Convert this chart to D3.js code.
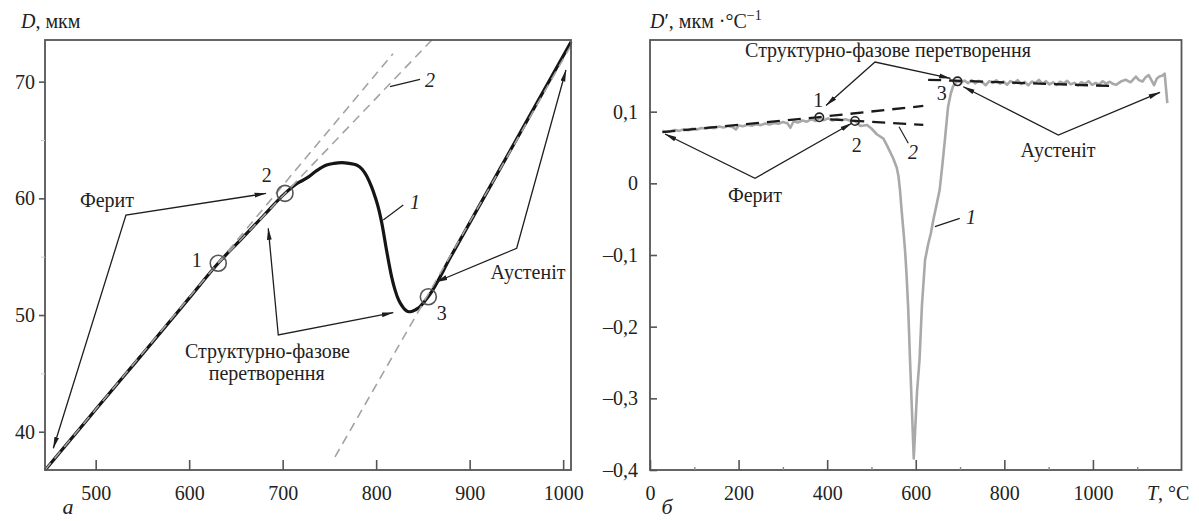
<!DOCTYPE html>
<html><head><meta charset="utf-8">
<script src="https://cdn.jsdelivr.net/npm/d3@7"></script>
<style>
html,body{margin:0;padding:0;background:#fff;}
svg{display:block;}
</style></head>
<body>
<svg id="c" width="1199" height="521"></svg>
<script>
// ---------- Panel а: D(T) ----------
const leftT = [446, 475, 500, 530, 560, 600, 631, 655, 680, 702.5, 715, 726, 736, 747, 755, 763, 771, 779, 785, 790, 795, 799, 803, 806, 811, 816.5, 820, 824, 828, 831, 835, 838, 842, 847, 851, 856, 880, 920, 960, 1008.4];
const leftD = [36.72, 39.5, 41.9, 44.75, 47.6, 51.45, 54.44, 56.45, 58.55, 60.43, 61.25, 61.75, 62.35, 62.86, 63.0, 63.06, 63.0, 62.86, 62.5, 61.9, 61.0, 60.1, 59.0, 57.9, 55.6, 53.3, 52.2, 51.3, 50.75, 50.45, 50.28, 50.3, 50.45, 50.72, 51.1, 51.6, 55.03, 60.75, 66.47, 73.4];
const leftXTicks = [500, 600, 700, 800, 900, 1000];
const leftYTicks = [40, 50, 60, 70];
const leftYMinor = [45, 55, 65];
// tangent (dashed) lines "2"
const leftLineA = [[445.8, 36.72], [818, 72.4]];
const leftLineB = [[631.1, 54.44], [859.5, 73.57]];
const leftLineC = [[756, 37.85], [1008.4, 73.1]];
const leftPoints = [[631.1, 54.44], [702.5, 60.43], [855.8, 51.57]];
const leftPointLabels = [["1", 608, 54.12], ["2", 683, 61.4], ["3", 870.1, 49.58]];
const leftArrows = [
  [[682.2, 60.42], [532.4, 58.57], [454.7, 38.58]],
  [[684.6, 57.43], [695.3, 48.29], [818.3, 50.2]],
  [[864, 52.83], [950.3, 55.72], [1003, 71.0]]
];
const leftTexts = [["Ферит", 512.1, 59.26], ["Структурно-фазове", 683.8, 46.32], ["перетворення", 682.9, 44.44], ["Аустеніт", 962.4, 53.09]];
const leftLeaders = [
  {label: "1", line: [[807.6, 58.15], [829, 59.43]], at: [841.5, 59.09]},
  {label: "2", line: [[814.8, 69.57], [846.9, 70.2]], at: [857.6, 69.54]}
];

// ---------- Panel б: D'(T) ----------
const dT = [
  28, 36, 46, 56, 66, 76, 86, 96, 106, 116,
  126, 136, 146, 156, 166, 176, 186, 194, 200, 210,
  220, 230, 240, 250, 260, 270, 280, 290, 300, 310,
  317, 324, 334, 344, 354, 364, 374, 383, 392, 402,
  412, 422, 432, 442, 452, 463, 475, 490, 500, 512,
  527, 535, 549, 557, 561, 564.5, 568, 572, 576, 579,
  583, 587, 591, 595.5, 599, 603, 608.5, 614, 621, 628,
  634, 640, 647, 654, 660, 666, 673, 679, 684, 690,
  694, 702, 710, 718, 726, 734, 742, 750, 758, 766,
  774, 782, 790, 798, 806, 814, 822, 830, 838, 846,
  854, 862, 870, 878, 886, 894, 902, 910, 918, 926,
  934, 942, 950, 958, 966, 974, 982, 990, 998, 1006,
  1014, 1022, 1030, 1038, 1046, 1052, 1063, 1074, 1085, 1097,
  1104, 1112, 1119, 1126, 1132, 1138, 1144, 1150, 1156, 1162,
  1168
];
const dV = [
  0.0735, 0.0718, 0.0728, 0.0745, 0.0732, 0.0755, 0.0741, 0.0763, 0.0750, 0.0772,
  0.0766, 0.0781, 0.0770, 0.0792, 0.0779, 0.0800, 0.0788, 0.0752, 0.0806, 0.0796,
  0.0818, 0.0803, 0.0826, 0.0812, 0.0836, 0.0820, 0.0843, 0.0831, 0.0855, 0.0838,
  0.0775, 0.0863, 0.0848, 0.0876, 0.0860, 0.0893, 0.0871, 0.0916, 0.0880, 0.0906,
  0.0877, 0.0899, 0.0883, 0.0893, 0.0872, 0.0870, 0.0800, 0.0815, 0.0765, 0.0685,
  0.0625, 0.0530, 0.0350, 0.0220, 0.0100, -0.0100, -0.0370, -0.0650, -0.0950, -0.1250,
  -0.1750, -0.2450, -0.3100, -0.3840, -0.3400, -0.2900, -0.2465, -0.1700, -0.1070, -0.0850,
  -0.0700, -0.0500, -0.0300, -0.0090, 0.0250, 0.0620, 0.1070, 0.1250, 0.1350, 0.1400,
  0.1425, 0.1405, 0.1435, 0.1398, 0.1440, 0.1395, 0.1430, 0.1410, 0.1370, 0.1425,
  0.1400, 0.1438, 0.1392, 0.1420, 0.1375, 0.1428, 0.1398, 0.1440, 0.1385, 0.1415,
  0.1368, 0.1420, 0.1400, 0.1442, 0.1390, 0.1425, 0.1380, 0.1410, 0.1372, 0.1418,
  0.1395, 0.1430, 0.1380, 0.1402, 0.1365, 0.1412, 0.1390, 0.1425, 0.1375, 0.1400,
  0.1380, 0.1425, 0.1392, 0.1418, 0.1385, 0.1375, 0.1420, 0.1445, 0.1410, 0.1490,
  0.1440, 0.1420, 0.1480, 0.1510, 0.1440, 0.1370, 0.1460, 0.1490, 0.1500, 0.1530,
  0.1120
];
const rightXTicks = [0, 200, 400, 600, 800, 1000];
const rightXMinor = [100, 300, 500, 700, 900, 1100];
const rightYTicks = [-0.4, -0.3, -0.2, -0.1, 0, 0.1];
const rightLineFerrite = [[28, 0.0715], [383, 0.0925], [617, 0.108]];
const rightLineFerrite2 = [[407, 0.0893], [617, 0.0815]];
const rightLineAustenite = [[628, 0.1445], [1054, 0.1355]];
const rightPoints = [[382.3, 0.0921], [462.9, 0.087], [694.3, 0.1423]];
const rightPointLabels = [["1", 380, 0.1065], ["2", 466.7, 0.0437], ["3", 658.6, 0.1163]];
const rightArrows = [
  [[33.9, 0.0688], [237.1, 0.007], [455.4, 0.0838]],
  [[397.4, 0.1086], [508, 0.1693], [678.5, 0.1465]],
  [[707.4, 0.1348], [921.9, 0.0674], [1151.5, 0.127]]
];
const rightTexts = [["Ферит", 237.1, -0.026], ["Структурно-фазове перетворення", 537.4, 0.1762], ["Аустеніт", 921.2, 0.0367]];
const rightLeaders = [
  {label: "2", line: [[562.2, 0.079], [583.2, 0.0559]], at: [593.8, 0.034]},
  {label: "1", line: [[643.3, -0.0605], [699.3, -0.0488]], at: [724.8, -0.0568]}
];

// ---------- drawing ----------
const FONT = "'Liberation Serif', 'Times New Roman', Tinos, 'DejaVu Serif', serif";
const svg = d3.select("#c").attr("font-family", FONT).style("font-family", FONT);
const FS = 20;
const defs = svg.append("defs");
defs.append("marker").attr("id", "arr")
  .attr("viewBox", "0 0 12 6").attr("markerUnits", "userSpaceOnUse")
  .attr("markerWidth", 12).attr("markerHeight", 6)
  .attr("refX", 11.5).attr("refY", 3).attr("orient", "auto-start-reverse")
  .append("path").attr("d", "M0,0.6 L12,3 L0,5.4 Z").attr("fill", "#1e1e1e");

function T(sel) { return sel.attr("font-family", FONT).style("font-family", FONT).attr("fill", "#222"); }

function frame(g, x, y) {
  const [x0, x1] = x.range(), [y0, y1] = y.range();
  g.append("rect").attr("x", x0).attr("y", y1).attr("width", x1 - x0).attr("height", y0 - y1)
    .attr("fill", "none").attr("stroke", "#555").attr("stroke-width", 1.8);
}
function styleAxis(a) {
  a.attr("font-family", FONT).style("font-family", FONT);
  a.select(".domain").remove();
  a.selectAll(".tick line").attr("stroke", "#555").attr("stroke-width", 1.6);
  a.selectAll(".tick text").attr("font-size", FS).call(T);
}
function drawArrows(g, arrows, x, y) {
  const line = d3.line().x(d => x(d[0])).y(d => y(d[1]));
  g.selectAll(null).data(arrows).join("path")
    .attr("d", line).attr("fill", "none").attr("stroke", "#1e1e1e").attr("stroke-width", 1.3)
    .attr("marker-start", "url(#arr)").attr("marker-end", "url(#arr)");
}
function drawTexts(g, texts, x, y, italic) {
  g.selectAll(null).data(texts).join("text")
    .attr("x", d => x(d[1])).attr("y", d => y(d[2]))
    .attr("text-anchor", "middle").attr("font-size", FS)
    .attr("font-style", italic ? "italic" : null)
    .call(T)
    .text(d => d[0]);
}
function drawLeaders(g, leaders, x, y) {
  const line = d3.line().x(d => x(d[0])).y(d => y(d[1]));
  g.selectAll(null).data(leaders).join("path").attr("d", d => line(d.line))
    .attr("stroke", "#1e1e1e").attr("stroke-width", 1.2).attr("fill", "none");
  g.selectAll(null).data(leaders).join("text")
    .attr("x", d => x(d.at[0])).attr("y", d => y(d.at[1]))
    .attr("text-anchor", "middle").attr("font-size", FS).attr("font-style", "italic")
    .call(T)
    .text(d => d.label);
}

// ===== Left panel =====
const xL = d3.scaleLinear().domain([445.8, 1008.4]).range([45, 571]);
const yL = d3.scaleLinear().domain([36.72, 73.57]).range([470, 40]);
const gL = svg.append("g");
const lineL = d3.line().x(d => xL(d[0])).y(d => yL(d[1]));

gL.append("path").datum(leftT.map((t, i) => [t, leftD[i]]))
  .attr("d", d3.line().x(d => xL(d[0])).y(d => yL(d[1])).curve(d3.curveMonotoneX))
  .attr("fill", "none").attr("stroke", "#151515").attr("stroke-width", 3.2)
  .attr("stroke-linejoin", "round");
[leftLineA, leftLineB, leftLineC].forEach(l => {
  gL.append("path").attr("d", lineL(l)).attr("fill", "none")
    .attr("stroke", "#a3a3a3").attr("stroke-width", 1.6).attr("stroke-dasharray", "9,6");
});
gL.selectAll(null).data(leftPoints).join("circle")
  .attr("cx", d => xL(d[0])).attr("cy", d => yL(d[1])).attr("r", 8)
  .attr("fill", "none").attr("stroke", "#555").attr("stroke-width", 1.6);
drawTexts(gL, leftPointLabels, xL, yL, false);
drawArrows(gL, leftArrows, xL, yL);
drawTexts(gL, leftTexts, xL, yL, false);
drawLeaders(gL, leftLeaders, xL, yL);

frame(gL, xL, yL);
gL.append("g").attr("transform", "translate(0,470)")
  .call(d3.axisBottom(xL).tickValues(leftXTicks).tickSize(-10).tickSizeOuter(0).tickPadding(16).tickFormat(d3.format("d")))
  .call(styleAxis);
gL.append("g").attr("transform", "translate(45,0)")
  .call(d3.axisLeft(yL).tickValues(leftYTicks).tickSize(6).tickSizeOuter(0).tickPadding(4).tickFormat(d3.format("d")))
  .call(styleAxis);
gL.append("g").attr("transform", "translate(45,0)")
  .call(d3.axisLeft(yL).tickValues(leftYMinor).tickSize(4).tickSizeOuter(0).tickFormat(""))
  .call(a => { a.select(".domain").remove(); a.selectAll(".tick line").attr("stroke", "#ccc"); });

const tL = svg.append("text").attr("x", 21).attr("y", 28).attr("font-size", FS).call(T);
tL.append("tspan").attr("font-style", "italic").text("D");
tL.append("tspan").text(", мкм");
svg.append("text").attr("x", 68).attr("y", 514).attr("text-anchor", "middle")
  .attr("font-size", FS + 2).attr("font-style", "italic").call(T).text("а");

// ===== Right panel =====
const xR = d3.scaleLinear().domain([0, 1200]).range([650, 1181.5]);
const yR = d3.scaleLinear().domain([-0.4, 0.2]).range([470, 40]);
const gR = svg.append("g");
const lineR = d3.line().x(d => xR(d[0])).y(d => yR(d[1]));

gR.append("path").datum(dT.map((t, i) => [t, dV[i]]))
  .attr("d", lineR).attr("fill", "none").attr("stroke", "#a9a9a9").attr("stroke-width", 2.6)
  .attr("stroke-linejoin", "round");
[rightLineFerrite, rightLineFerrite2, rightLineAustenite].forEach(l => {
  gR.append("path").attr("d", lineR(l)).attr("fill", "none")
    .attr("stroke", "#1a1a1a").attr("stroke-width", 2.3).attr("stroke-dasharray", "13,8");
});
gR.selectAll(null).data(rightPoints).join("circle")
  .attr("cx", d => xR(d[0])).attr("cy", d => yR(d[1])).attr("r", 4.2)
  .attr("fill", "none").attr("stroke", "#222").attr("stroke-width", 1.6);
drawTexts(gR, rightPointLabels, xR, yR, false);
drawArrows(gR, rightArrows, xR, yR);
drawTexts(gR, rightTexts, xR, yR, false);
drawLeaders(gR, rightLeaders, xR, yR);

frame(gR, xR, yR);
gR.append("g").attr("transform", "translate(0,470)")
  .call(d3.axisBottom(xR).tickValues(rightXTicks).tickSize(-10).tickSizeOuter(0).tickPadding(16).tickFormat(d3.format("d")))
  .call(styleAxis);
gR.append("g").attr("transform", "translate(0,470)")
  .call(d3.axisBottom(xR).tickValues(rightXMinor).tickSize(-3).tickSizeOuter(0).tickFormat(""))
  .call(a => { a.select(".domain").remove(); a.selectAll(".tick line").attr("stroke", "#888").attr("stroke-width", 1.4); });
gR.append("g").attr("transform", "translate(650,0)")
  .call(d3.axisLeft(yR).tickValues(rightYTicks).tickSize(-7).tickSizeOuter(0).tickPadding(12)
    .tickFormat(d => d === 0 ? "0" : (d < 0 ? "–" : "") + Math.abs(d).toFixed(1).replace(".", ",")))
  .call(styleAxis);

const tR = svg.append("text").attr("x", 650).attr("y", 28).attr("font-size", FS).call(T);
tR.append("tspan").attr("font-style", "italic").text("D");
tR.append("tspan").text("′, мкм ·°C");
tR.append("tspan").attr("font-size", 14).attr("dy", -8).text("−1");
const tX = svg.append("text").attr("x", xR(1122)).attr("y", 500).attr("font-size", FS).call(T);
tX.append("tspan").attr("font-style", "italic").text("T");
tX.append("tspan").text(", °C");
svg.append("text").attr("x", 667).attr("y", 514).attr("text-anchor", "middle")
  .attr("font-size", FS + 2).attr("font-style", "italic").call(T).text("б");
</script>
</body></html>
